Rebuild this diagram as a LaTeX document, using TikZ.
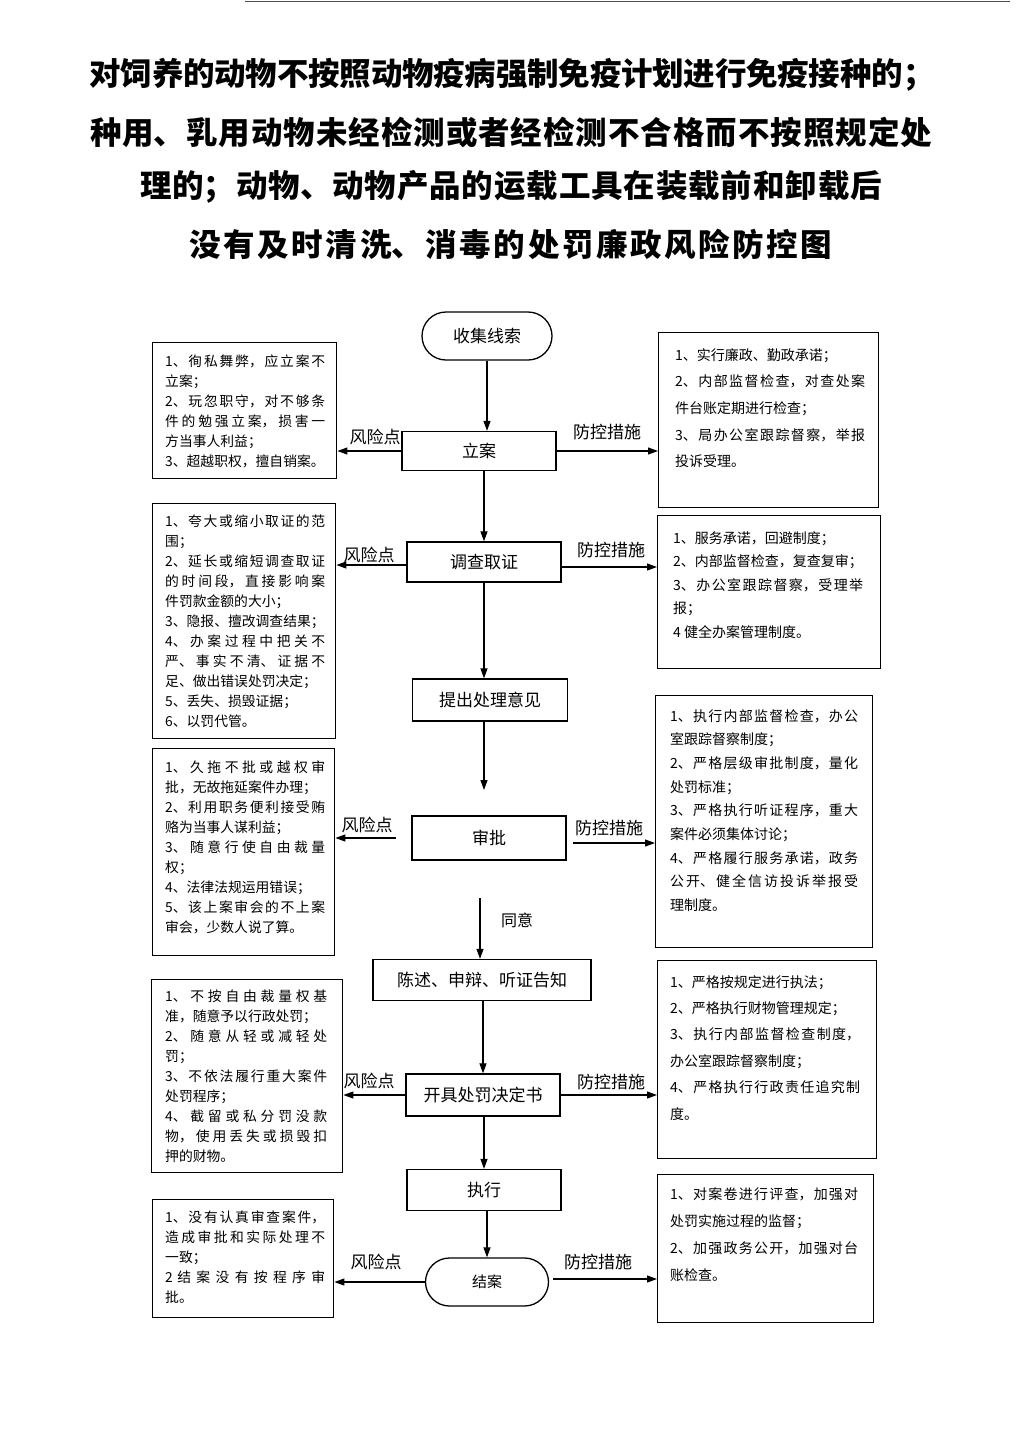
\documentclass[tikz,border=0pt]{standalone}
\usepackage{fontspec}
\setmainfont{Noto Sans CJK SC}
\usetikzlibrary{arrows.meta,shapes.misc}
\XeTeXlinebreaklocale "zh"
\XeTeXlinebreakskip=0pt plus 6pt minus 1pt
\setlength\parindent{0pt}
\begin{document}
\begin{tikzpicture}[x=1pt,y=-1pt,
  cbox/.style={draw, line width=1.3pt, inner sep=0, font=\fontsize{17}{20}\selectfont},
  rbox/.style={rounded rectangle, draw, line width=1.3pt, inner sep=0, font=\fontsize{17}{20}\selectfont},
  sbox/.style={draw, line width=1.4pt, anchor=north west, inner sep=0},
  ltxt/.style={anchor=north west, inner sep=0, text width=160, align=justify},
  rtxt/.style={anchor=north west, inner sep=0, text width=190, align=justify},
  arr/.style={-{Triangle[length=10pt,width=7pt]}, line width=1.1pt},
  lab/.style={inner sep=0, font=\fontsize{17}{20}\selectfont},
  ttl/.style={inner sep=0, align=justify, font=\fontsize{31.5}{36}\selectfont\bfseries}
]
\fill[white] (0,0) rectangle (1024,1448);
\useasboundingbox (0,0) rectangle (1024,1448);
\draw[line width=0.8pt, black!70] (245,1.5) -- (1010,1.5);

% title
\node[ttl, text width=845] (t1) at (512,75) {{\parfillskip=0pt 对饲养的动物不按照动物疫病强制免疫计划进行免疫接种的；\par}};
\node[ttl, text width=842] (t2) at (511,132) {{\parfillskip=0pt 种用、乳用动物未经检测或者经检测不合格而不按照规定处\par}};
\node[ttl, text width=742] (t3) at (511,187) {{\parfillskip=0pt 理的；动物、动物产品的运载工具在装载前和卸载后\par}};
\node[ttl, text width=643] (t4) at (511,244) {{\parfillskip=0pt 没有及时清洗、消毒的处罚廉政风险防控图\par}};

% centre column
\node[rbox, minimum width=130, minimum height=48] (n0) at (487,336) {收集线索};
\node[cbox, minimum width=154, minimum height=39] (n1) at (479,451) {立案};
\node[cbox, minimum width=154, minimum height=40] (n2) at (484,562) {调查取证};
\node[cbox, minimum width=155, minimum height=42] (n3) at (490,700) {提出处理意见};
\node[cbox, minimum width=154, minimum height=44] (n4) at (489,838) {审批};
\node[cbox, minimum width=218, minimum height=41] (n5) at (482,980) {陈述、申辩、听证告知};
\node[cbox, minimum width=154, minimum height=42] (n6) at (483,1095) {开具处罚决定书};
\node[cbox, minimum width=154, minimum height=41] (n7) at (484,1190) {执行};
\node[rbox, minimum width=123, minimum height=48, font=\fontsize{15}{18}\selectfont] (n8) at (487,1282) {结案};

\coordinate (c34) at (484,790);
\coordinate (c45) at (480,898);
\coordinate (s4l) at (396,838);
\coordinate (s4r) at (573,843);

% left boxes
\node[sbox, minimum width=184, minimum height=136] (L1) at (152,342) {};
\node[sbox, minimum width=183, minimum height=235] (L2) at (152,503) {};
\node[sbox, minimum width=182, minimum height=207] (L3) at (152,748) {};
\node[sbox, minimum width=191, minimum height=193] (L4) at (151,979) {};
\node[sbox, minimum width=181, minimum height=118] (L5) at (152,1199) {};
% right boxes
\node[sbox, minimum width=220, minimum height=175] (R1) at (658,332) {};
\node[sbox, minimum width=223, minimum height=153] (R2) at (657,515) {};
\node[sbox, minimum width=217, minimum height=252] (R3) at (655,695) {};
\node[sbox, minimum width=219, minimum height=198] (R4) at (657,960) {};
\node[sbox, minimum width=216, minimum height=148] (R5) at (657,1174) {};

% left texts
\node[ltxt, font=\fontsize{13.8}{20}\selectfont] (L1t) at (165,355) {1、徇私舞弊，应立案不\linebreak 立案；\\2、玩忽职守，对不够条\linebreak 件的勉强立案，损害一\linebreak 方当事人利益；\\3、超越职权，擅自销案。};
\node[ltxt, font=\fontsize{13.8}{20}\selectfont] (L2t) at (165,515) {1、夸大或缩小取证的范\linebreak 围；\\2、延长或缩短调查取证\linebreak 的时间段，直接影响案\linebreak 件罚款金额的大小；\\3、隐报、擅改调查结果；\\4、办案过程中把关不\linebreak 严、事实不清、证据不\linebreak 足、做出错误处罚决定；\\5、丢失、损毁证据；\\6、以罚代管。};
\node[ltxt, font=\fontsize{13.8}{20}\selectfont] (L3t) at (165,761) {1、久拖不批或越权审\linebreak 批，无故拖延案件办理；\\2、利用职务便利接受贿\linebreak 赂为当事人谋利益；\\3、随意行使自由裁量\linebreak 权；\\4、法律法规运用错误；\\5、该上案审会的不上案\linebreak 审会，少数人说了算。};
\node[ltxt, text width=162, font=\fontsize{13.8}{20}\selectfont] (L4t) at (165,990) {1、不按自由裁量权基\linebreak 准，随意予以行政处罚；\\2、随意从轻或减轻处\linebreak 罚；\\3、不依法履行重大案件\linebreak 处罚程序；\\4、截留或私分罚没款\linebreak 物，使用丢失或损毁扣\linebreak 押的财物。};
\node[ltxt, font=\fontsize{13.8}{20}\selectfont] (L5t) at (165,1211) {1、没有认真审查案件，\linebreak 造成审批和实际处理不\linebreak 一致；\\2 结案没有按程序审\linebreak 批。};

% right texts
\node[rtxt, font=\fontsize{14}{26.7}\selectfont] (R1t) at (675,348) {1、实行廉政、勤政承诺；\\2、内部监督检查，对查处案\linebreak 件台账定期进行检查；\\3、局办公室跟踪督察，举报\linebreak 投诉受理。};
\node[rtxt, font=\fontsize{14}{23.5}\selectfont] (R2t) at (673,531) {1、服务承诺，回避制度；\\2、内部监督检查，复查复审；\\3、办公室跟踪督察，受理举\linebreak 报；\\4 健全办案管理制度。};
\node[rtxt, text width=188, font=\fontsize{14}{23.7}\selectfont] (R3t) at (670,709) {1、执行内部监督检查，办公\linebreak 室跟踪督察制度；\\2、严格层级审批制度，量化\linebreak 处罚标准；\\3、严格执行听证程序，重大\linebreak 案件必须集体讨论；\\4、严格履行服务承诺，政务\linebreak 公开、健全信访投诉举报受\linebreak 理制度。};
\node[rtxt, font=\fontsize{14}{26.4}\selectfont] (R4t) at (670,975) {1、严格按规定进行执法；\\2、严格执行财物管理规定；\\3、执行内部监督检查制度，\linebreak 办公室跟踪督察制度；\\4、严格执行行政责任追究制\linebreak 度。};
\node[rtxt, text width=188, font=\fontsize{14}{27}\selectfont] (R5t) at (670,1187) {1、对案卷进行评查，加强对\linebreak 处罚实施过程的监督；\\2、加强政务公开，加强对台\linebreak 账检查。};

% side labels
\node[lab] (a1) at (375,437) {风险点};
\node[lab] (b1) at (607,432) {防控措施};
\node[lab] (a2) at (369,555) {风险点};
\node[lab] (b2) at (611,550) {防控措施};
\node[lab] (a4) at (367,825) {风险点};
\node[lab] (b4) at (609,828) {防控措施};
\node[lab] (a6) at (369,1081) {风险点};
\node[lab] (b6) at (611,1082) {防控措施};
\node[lab] (a8) at (376,1262) {风险点};
\node[lab] (b8) at (598,1262) {防控措施};
\node[inner sep=0, font=\fontsize{16}{18}\selectfont] (ty) at (517,920) {同意};

% vertical connectors
\draw[arr] (n0.south) -- (n0.south |- n1.north);
\draw[arr] (n2.north |- n1.south) -- (n2.north);
\draw[arr] (n2.south) -- (n2.south |- n3.north);
\draw[arr] (c34 |- n3.south) -- (c34);
\draw[arr] (c45) -- (c45 |- n5.north);
\draw[arr] (n5.south -| n6.north) -- (n6.north);
\draw[arr] (n7.north |- n6.south) -- (n7.north);
\draw[arr] (n8.north |- n7.south) -- (n8.north);

% side connectors
\draw[arr] (n1.west) -- (n1.west -| L1.east);
\draw[arr] (n1.east) -- (n1.east -| R1.west);
\draw[arr] ([yshift=-3pt]n2.west) -- ([yshift=-3pt]n2.west -| L2.east);
\draw[arr] ([yshift=-5pt]n2.east) -- ([yshift=-5pt]n2.east -| R2.west);
\draw[arr] (s4l) -- (s4l -| L3.east);
\draw[arr] (s4r) -- (s4r -| R3.west);
\draw[arr] (n6.west) -- (n6.west -| L4.east);
\draw[arr] (n6.east) -- (n6.east -| R4.west);
\draw[arr] (n8.west) -- (n8.west -| L5.east);
\draw[arr] ([xshift=4pt,yshift=3pt]n8.east) -- ([yshift=3pt]n8.east -| R5.west);
\end{tikzpicture}
\end{document}
